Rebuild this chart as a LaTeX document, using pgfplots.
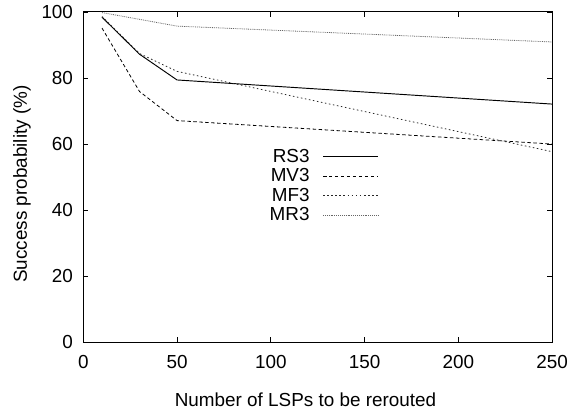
\documentclass[border=0pt]{standalone}
\usepackage{fontspec}
\setmainfont{Liberation Sans}
\usepackage{pgfplots}
\pgfplotsset{compat=1.18}

\begin{document}
\begin{tikzpicture}
\begin{axis}[
    scale only axis,
    width=298pt, height=210pt,
    xmin=0, xmax=250, ymin=0, ymax=100,
    xtick={0,50,...,250}, ytick={0,20,...,100},
    tick align=inside,
    major tick length=3.2pt,
    tick style={black, line width=0.5pt},
    axis line style={line width=0.6pt},
    /pgf/number format/assume math mode=true,
    ticklabel style={font=\fontsize{12}{14}\selectfont},
    xticklabel style={yshift=-5pt},
    yticklabel style={xshift=-3pt},
    label style={font=\fontsize{12}{14}\selectfont},
    xlabel={Number of LSPs to be rerouted},
    xlabel style={at={(ticklabel cs:0.474)}, yshift=-8pt},
    ylabel={Success probability (\%)},
    ylabel style={at={(ticklabel cs:0.479)}},
    legend plot pos=right,
    legend cell align=right,
    legend style={draw=none, fill=none, font=\fontsize{12}{13}\selectfont,
        at={(axis cs:158.5,60)}, anchor=north east,
        row sep=-1.5pt, inner sep=1pt},
    legend image code/.code={\path (0cm,0cm); \draw[#1] (0.22cm,0cm) -- (1.45cm,0cm);},
]
\addplot[black, line width=0.6pt] coordinates {
    (10,98.4) (30,87.2) (50,79.4) (250,72.1)
};
\addplot[black, line width=0.5pt, dash pattern=on 2.2pt off 1.6pt] coordinates {
    (10,95.1) (30,75.9) (50,67.1) (250,60.0)
};
\addplot[black!85, line width=0.5pt, dash pattern=on 1pt off 1.6pt] coordinates {
    (10,98.6) (30,87.4) (50,82.0) (250,57.7)
};
\addplot[black!60, line width=0.5pt, dash pattern=on 0.6pt off 0.6pt] coordinates {
    (10,99.8) (50,95.7) (250,90.9)
};
\legend{RS3, MV3, MF3, MR3}
\end{axis}
\path ([xshift=-5pt]current axis.outer west);
\end{tikzpicture}
\end{document}
